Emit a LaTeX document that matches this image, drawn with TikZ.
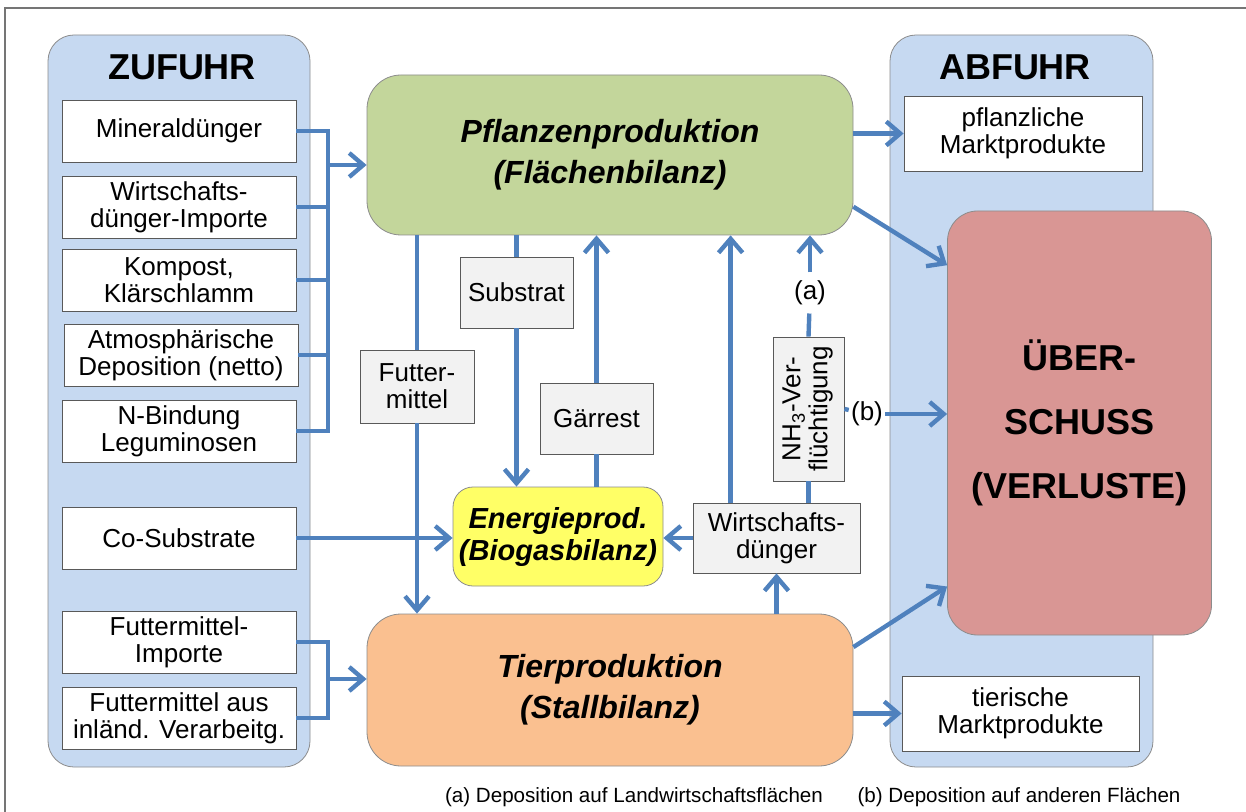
\documentclass[tikz,border=0pt]{standalone}
\usepackage{fontspec}
\setmainfont{Liberation Sans}
\usepackage{graphicx}
\usetikzlibrary{arrows.meta}

\definecolor{boxblue}{HTML}{C6D9F1}
\definecolor{flowblue}{HTML}{4F81BD}
\definecolor{plantgreen}{HTML}{C3D69B}
\definecolor{animalorange}{HTML}{FAC090}
\definecolor{biogasyellow}{HTML}{FFFF66}
\definecolor{lossred}{HTML}{D99694}
\definecolor{boxline}{HTML}{595959}
\definecolor{rimgray}{HTML}{8C8C8C}
\definecolor{subgray}{HTML}{F2F2F2}

\tikzset{
  itembox/.style={draw=boxline, fill=white, minimum width=117pt, minimum height=31pt,
    inner sep=0pt, align=center, font=\fontsize{13}{13.5}\selectfont},
  midbox/.style={draw=boxline, fill=subgray, inner sep=0pt, align=center,
    font=\fontsize{13}{13.5}\selectfont},
  mainbox/.style={draw=rimgray, rounded corners=17pt, minimum width=243pt, inner sep=0pt,
    align=center, font=\fontsize{16}{20.5}\selectfont\bfseries\itshape},
  headline/.style={font=\fontsize{18}{20}\selectfont\bfseries},
  flow/.style={draw=flowblue, line width=2.2pt},
  flowarrow/.style={flow, -{Straight Barb[length=7pt,width=12pt]}}
}

\begin{document}
\begin{tikzpicture}[x=0.5pt, y=-0.5pt]
  \useasboundingbox (0,0) rectangle (1246,812);
  \draw[rimgray!120, line width=1pt] (5,812) -- (5,8) -- (1246,8);

  \filldraw[fill=boxblue, draw=rimgray, rounded corners=13pt] (48,35) rectangle (310,767);
  \filldraw[fill=boxblue, draw=rimgray, rounded corners=13pt] (890,35) rectangle (1153,767);
  \node[headline] (zutitle) at (182,67) {ZUFUHR};
  \node[headline] (abtitle) at (1015,67) {ABFUHR};

  \node[itembox] (mineral) at (179,131) {Mineraldünger};
  \node[itembox] (wdimport) at (179,207) {Wirtschafts-\\dünger-Importe};
  \node[itembox] (kompost) at (179,280) {Kompost,\\Klärschlamm};
  \node[itembox] (atmos) at (181,355) {Atmosphärische\\Deposition (netto)};
  \node[itembox] (nbind) at (179,431) {N-Bindung\\Leguminosen};
  \node[itembox] (cosub) at (179,538) {Co-Substrate};
  \node[itembox] (fmimport) at (179,642) {Futtermittel-\\Importe};
  \node[itembox] (fminland) at (179,718) {Futtermittel aus\\inländ. Verarbeitg.};

  \node[itembox, minimum width=119pt, minimum height=37.5pt] (pflmarkt) at (1023,133.5) {pflanzliche\\Marktprodukte};
  \node[itembox, minimum width=118.5pt, minimum height=37.5pt] (tiermarkt) at (1020.5,713.5) {tierische\\Marktprodukte};

  \node[mainbox, fill=plantgreen, minimum height=80pt] (pflanz) at (610,155) {Pflanzenproduktion\\(Flächenbilanz)};
  \node[mainbox, fill=animalorange, minimum height=76pt] (tier) at (610,690) {Tierproduktion\\(Stallbilanz)};
  \node[draw=rimgray, fill=biogasyellow, rounded corners=10pt, minimum width=105pt, minimum height=49.5pt,
    inner sep=0pt, align=center, font=\fontsize{14.5}{16}\selectfont\bfseries\itshape] (energie) at (558,536.5) {Energieprod.\\(Biogasbilanz)};
  \node[draw=rimgray, fill=lossred, rounded corners=15pt, minimum width=132pt, minimum height=212pt,
    inner sep=0pt, align=center, font=\fontsize{18}{32}\selectfont\bfseries] (ueber) at (1079.5,423) {ÜBER-\\SCHUSS\\(VERLUSTE)};

  \node[midbox, minimum width=56.5pt, minimum height=35.5pt] (substrat) at (516.5,292.5) {Substrat};
  \node[midbox, minimum width=56.5pt, minimum height=35.5pt] (gaerrest) at (596.5,418.5) {Gärrest};
  \node[midbox, minimum width=57pt, minimum height=36.5pt] (futter) at (417,386.5) {Futter-\\mittel};
  \node[midbox, minimum width=83.5pt, minimum height=35pt] (wdueng) at (776.5,538) {Wirtschafts-\\dünger};
  \node[midbox, minimum width=35.5pt, minimum height=72pt] (nh3) at (808.5,409)
    {\rotatebox{90}{\begin{tabular}{@{}c@{}}NH\textsubscript{3}-Ver-\\flüchtigung\end{tabular}}};
  \node[font=\fontsize{13}{13.5}\selectfont, inner xsep=1pt, inner ysep=4pt] (alab) at (810,293) {(a)};
  \node[font=\fontsize{13}{13.5}\selectfont, inner xsep=1pt, inner ysep=4pt] (blab) at (867,414) {(b)};

  \coordinate (zbus) at (328,165);
  \coordinate (fbus) at (328,679);
  \coordinate (wdup) at ([xshift=19pt]wdueng.north west);

  \draw[flow] (mineral.east) -- (mineral.east -| zbus) -- (nbind.east -| zbus) -- (nbind.east);
  \draw[flow] (wdimport.east) -- (wdimport.east -| zbus);
  \draw[flow] (kompost.east) -- (kompost.east -| zbus);
  \draw[flow] (atmos.east) -- (atmos.east -| zbus);
  \draw[flowarrow] (zbus) -- (zbus -| pflanz.west);
  \draw[flow] (fmimport.east) -- (fmimport.east -| fbus) -- (fminland.east -| fbus) -- (fminland.east);
  \draw[flowarrow] (fbus) -- (fbus -| tier.west);
  \draw[flowarrow] (cosub.east) -- (cosub.east -| energie.west);

  \draw[flow] (futter |- pflanz.south) -- (futter.north);
  \draw[flowarrow] (futter.south) -- (futter |- tier.north);
  \draw[flow] (substrat |- pflanz.south) -- (substrat.north);
  \draw[flowarrow] (substrat.south) -- (substrat |- energie.north);
  \draw[flow] (gaerrest |- energie.north) -- (gaerrest.south);
  \draw[flowarrow] (gaerrest.north) -- (gaerrest |- pflanz.south);

  \draw[flowarrow] (wdueng.west) -- (wdueng.west -| energie.east);
  \draw[flowarrow] (wdup) -- (wdup |- pflanz.south);
  \draw[flowarrow] (wdueng |- tier.north) -- (wdueng.south);
  \draw[flow] (nh3 |- wdueng.north) -- (nh3.south);
  \draw[flow] (nh3.north) -- (alab);
  \draw[flowarrow] (alab) -- (alab |- pflanz.south);
  \draw[flow] (nh3.east) -- (blab);
  \draw[flowarrow] (blab) -- (blab -| ueber.west);

  \draw[flowarrow] (pflmarkt.west -| pflanz.east) -- (pflmarkt.west);
  \draw[flowarrow] (pflanz.-12) -- (ueber.130);
  \draw[flowarrow] (tier.10) -- (ueber.231);
  \draw[flowarrow] (tiermarkt.west -| tier.east) -- (tiermarkt.west);

  \node[font=\fontsize{10.3}{12}\selectfont] (fna) at (634,797) {(a) Deposition auf Landwirtschaftsflächen};
  \node[font=\fontsize{10.3}{12}\selectfont] (fnb) at (1019,797) {(b) Deposition auf anderen Flächen};
\end{tikzpicture}
\end{document}
